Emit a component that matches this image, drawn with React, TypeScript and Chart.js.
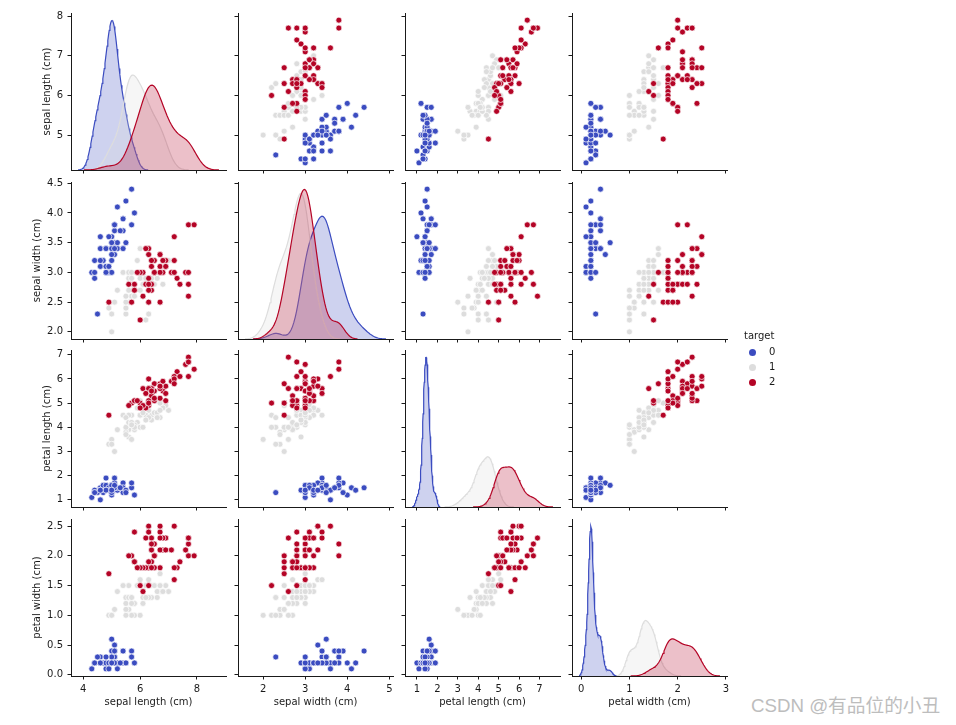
import React, { useEffect, useRef } from 'react';
import { Chart, registerables } from 'chart.js';

Chart.register(...registerables);

// ---------------- DATA (iris, sklearn version) ----------------
const sepalLength = [
  5.1, 4.9, 4.7, 4.6, 5.0, 5.4, 4.6, 5.0, 4.4, 4.9, 5.4, 4.8, 4.8, 4.3, 5.8, 5.7, 5.4, 5.1, 5.7, 5.1, 5.4, 5.1, 4.6, 5.1, 4.8,
  5.0, 5.0, 5.2, 5.2, 4.7, 4.8, 5.4, 5.2, 5.5, 4.9, 5.0, 5.5, 4.9, 4.4, 5.1, 5.0, 4.5, 4.4, 5.0, 5.1, 4.8, 5.1, 4.6, 5.3, 5.0,
  7.0, 6.4, 6.9, 5.5, 6.5, 5.7, 6.3, 4.9, 6.6, 5.2, 5.0, 5.9, 6.0, 6.1, 5.6, 6.7, 5.6, 5.8, 6.2, 5.6, 5.9, 6.1, 6.3, 6.1, 6.4,
  6.6, 6.8, 6.7, 6.0, 5.7, 5.5, 5.5, 5.8, 6.0, 5.4, 6.0, 6.7, 6.3, 5.6, 5.5, 5.5, 6.1, 5.8, 5.0, 5.6, 5.7, 5.7, 6.2, 5.1, 5.7,
  6.3, 5.8, 7.1, 6.3, 6.5, 7.6, 4.9, 7.3, 6.7, 7.2, 6.5, 6.4, 6.8, 5.7, 5.8, 6.4, 6.5, 7.7, 7.7, 6.0, 6.9, 5.6, 7.7, 6.3, 6.7,
  7.2, 6.2, 6.1, 6.4, 7.2, 7.4, 7.9, 6.4, 6.3, 6.1, 7.7, 6.3, 6.4, 6.0, 6.9, 6.7, 6.9, 5.8, 6.8, 6.7, 6.7, 6.3, 6.5, 6.2, 5.9,
];
const sepalWidth = [
  3.5, 3.0, 3.2, 3.1, 3.6, 3.9, 3.4, 3.4, 2.9, 3.1, 3.7, 3.4, 3.0, 3.0, 4.0, 4.4, 3.9, 3.5, 3.8, 3.8, 3.4, 3.7, 3.6, 3.3, 3.4,
  3.0, 3.4, 3.5, 3.4, 3.2, 3.1, 3.4, 4.1, 4.2, 3.1, 3.2, 3.5, 3.6, 3.0, 3.4, 3.5, 2.3, 3.2, 3.5, 3.8, 3.0, 3.8, 3.2, 3.7, 3.3,
  3.2, 3.2, 3.1, 2.3, 2.8, 2.8, 3.3, 2.4, 2.9, 2.7, 2.0, 3.0, 2.2, 2.9, 2.9, 3.1, 3.0, 2.7, 2.2, 2.5, 3.2, 2.8, 2.5, 2.8, 2.9,
  3.0, 2.8, 3.0, 2.9, 2.6, 2.4, 2.4, 2.7, 2.7, 3.0, 3.4, 3.1, 2.3, 3.0, 2.5, 2.6, 3.0, 2.6, 2.3, 2.7, 3.0, 2.9, 2.9, 2.5, 2.8,
  3.3, 2.7, 3.0, 2.9, 3.0, 3.0, 2.5, 2.9, 2.5, 3.6, 3.2, 2.7, 3.0, 2.5, 2.8, 3.2, 3.0, 3.8, 2.6, 2.2, 3.2, 2.8, 2.8, 2.7, 3.3,
  3.2, 2.8, 3.0, 2.8, 3.0, 2.8, 3.8, 2.8, 2.8, 2.6, 3.0, 3.4, 3.1, 3.0, 3.1, 3.1, 3.1, 2.7, 3.2, 3.3, 3.0, 2.5, 3.0, 3.4, 3.0,
];
const petalLength = [
  1.4, 1.4, 1.3, 1.5, 1.4, 1.7, 1.4, 1.5, 1.4, 1.5, 1.5, 1.6, 1.4, 1.1, 1.2, 1.5, 1.3, 1.4, 1.7, 1.5, 1.7, 1.5, 1.0, 1.7, 1.9,
  1.6, 1.6, 1.5, 1.4, 1.6, 1.6, 1.5, 1.5, 1.4, 1.5, 1.2, 1.3, 1.4, 1.3, 1.5, 1.3, 1.3, 1.3, 1.6, 1.9, 1.4, 1.6, 1.4, 1.5, 1.4,
  4.7, 4.5, 4.9, 4.0, 4.6, 4.5, 4.7, 3.3, 4.6, 3.9, 3.5, 4.2, 4.0, 4.7, 3.6, 4.4, 4.5, 4.1, 4.5, 3.9, 4.8, 4.0, 4.9, 4.7, 4.3,
  4.4, 4.8, 5.0, 4.5, 3.5, 3.8, 3.7, 3.9, 5.1, 4.5, 4.5, 4.7, 4.4, 4.1, 4.0, 4.4, 4.6, 4.0, 3.3, 4.2, 4.2, 4.2, 4.3, 3.0, 4.1,
  6.0, 5.1, 5.9, 5.6, 5.8, 6.6, 4.5, 6.3, 5.8, 6.1, 5.1, 5.3, 5.5, 5.0, 5.1, 5.3, 5.5, 6.7, 6.9, 5.0, 5.7, 4.9, 6.7, 4.9, 5.7,
  6.0, 4.8, 4.9, 5.6, 5.8, 6.1, 6.4, 5.6, 5.1, 5.6, 6.1, 5.6, 5.5, 4.8, 5.4, 5.6, 5.1, 5.1, 5.9, 5.7, 5.2, 5.0, 5.2, 5.4, 5.1,
];
const petalWidth = [
  0.2, 0.2, 0.2, 0.2, 0.2, 0.4, 0.3, 0.2, 0.2, 0.1, 0.2, 0.2, 0.1, 0.1, 0.2, 0.4, 0.4, 0.3, 0.3, 0.3, 0.2, 0.4, 0.2, 0.5, 0.2,
  0.2, 0.4, 0.2, 0.2, 0.2, 0.2, 0.4, 0.1, 0.2, 0.2, 0.2, 0.2, 0.1, 0.2, 0.2, 0.3, 0.3, 0.2, 0.6, 0.4, 0.3, 0.2, 0.2, 0.2, 0.2,
  1.4, 1.5, 1.5, 1.3, 1.5, 1.3, 1.6, 1.0, 1.3, 1.4, 1.0, 1.5, 1.0, 1.4, 1.3, 1.4, 1.5, 1.0, 1.5, 1.1, 1.8, 1.3, 1.5, 1.2, 1.3,
  1.4, 1.4, 1.7, 1.5, 1.0, 1.1, 1.0, 1.2, 1.6, 1.5, 1.6, 1.5, 1.3, 1.3, 1.3, 1.2, 1.4, 1.2, 1.0, 1.3, 1.2, 1.3, 1.3, 1.1, 1.3,
  2.5, 1.9, 2.1, 1.8, 2.2, 2.1, 1.7, 1.8, 1.8, 2.5, 2.0, 1.9, 2.1, 2.0, 2.4, 2.3, 1.8, 2.2, 2.3, 1.5, 2.3, 2.0, 2.0, 1.8, 2.1,
  1.8, 1.8, 1.8, 2.1, 1.6, 1.9, 2.0, 2.2, 1.5, 1.4, 2.3, 2.4, 1.8, 1.8, 2.1, 2.4, 2.3, 1.9, 2.3, 2.5, 2.3, 1.9, 2.0, 2.3, 1.8,
];
const target = [
  0, 0, 0, 0, 0, 0, 0, 0, 0, 0, 0, 0, 0, 0, 0, 0, 0, 0, 0, 0, 0, 0, 0, 0, 0,
  0, 0, 0, 0, 0, 0, 0, 0, 0, 0, 0, 0, 0, 0, 0, 0, 0, 0, 0, 0, 0, 0, 0, 0, 0,
  1, 1, 1, 1, 1, 1, 1, 1, 1, 1, 1, 1, 1, 1, 1, 1, 1, 1, 1, 1, 1, 1, 1, 1, 1,
  1, 1, 1, 1, 1, 1, 1, 1, 1, 1, 1, 1, 1, 1, 1, 1, 1, 1, 1, 1, 1, 1, 1, 1, 1,
  2, 2, 2, 2, 2, 2, 2, 2, 2, 2, 2, 2, 2, 2, 2, 2, 2, 2, 2, 2, 2, 2, 2, 2, 2,
  2, 2, 2, 2, 2, 2, 2, 2, 2, 2, 2, 2, 2, 2, 2, 2, 2, 2, 2, 2, 2, 2, 2, 2, 2,
];

const variableNames = ['sepal length (cm)', 'sepal width (cm)', 'petal length (cm)', 'petal width (cm)'];
const classLabels = ['0', '1', '2'];
const classColors = ['#3b4cc0', '#dddddd', '#b40426'];
const classFills = ['rgba(59,76,192,0.25)', 'rgba(221,221,221,0.25)', 'rgba(180,4,38,0.25)'];

const xTicksSepalLength = [4, 6, 8];
const xTicksSepalWidth = [2, 3, 4, 5];
const xTicksPetalLength = [1, 2, 3, 4, 5, 6, 7];
const xTicksPetalWidth = [0, 1, 2, 3];
const yTicksSepalLength = [5, 6, 7, 8];
const yTicksSepalWidth = [2.0, 2.5, 3.0, 3.5, 4.0, 4.5];
const yTicksPetalLength = [1, 2, 3, 4, 5, 6, 7];
const yTicksPetalWidth = [0.0, 0.5, 1.0, 1.5, 2.0, 2.5];
const yTickDecimals = [0, 1, 0, 1];
const legendTitle = 'target';
const watermark = 'CSDN @有品位的小丑';

// ---------------- LAYOUT / STYLE ----------------
const COL_LEFT = [71, 238, 405, 572];
const ROW_TOP = [13, 182, 350, 519];
const PANEL_W = 155;
const PANEL_H = 157;
const Y_AXIS_W = 71;
const X_AXIS_H = 45;
const PAD_TOP = 8;
const PAD_RIGHT = 12;
const CANVAS_W = Y_AXIS_W + PANEL_W + PAD_RIGHT;
const CANVAS_H = PAD_TOP + PANEL_H + X_AXIS_H;
const Y_TITLE_CENTER = [47.7, 37.7, 47.7, 37.7];
const TEXT = '#1a1a1a';
const SPINE = '#1a1a1a';
const FONT = { family: '"DejaVu Sans"', size: 10 };
const LEG_Y = [352.3, 367, 382];

const columns = [sepalLength, sepalWidth, petalLength, petalWidth];
const xTicks = [xTicksSepalLength, xTicksSepalWidth, xTicksPetalLength, xTicksPetalWidth];
const yTicks = [yTicksSepalLength, yTicksSepalWidth, yTicksPetalLength, yTicksPetalWidth];

// ---------------- KDE (scipy gaussian_kde, Scott) ----------------
function kde(values: number[]) {
  const n = values.length;
  const mean = values.reduce((a, b) => a + b, 0) / n;
  const sd = Math.sqrt(values.reduce((a, b) => a + (b - mean) * (b - mean), 0) / (n - 1));
  const bw = sd * Math.pow(n, -1 / 5);
  const lo = Math.min(...values) - 3 * bw;
  const hi = Math.max(...values) + 3 * bw;
  const G = 100;
  const pts: { x: number; y: number }[] = [];
  let maxY = 0;
  for (let i = 0; i < G; i++) {
    const x = lo + ((hi - lo) * i) / (G - 1);
    let s = 0;
    for (const v of values) {
      const z = (x - v) / bw;
      s += Math.exp(-0.5 * z * z);
    }
    const y = s / (n * bw * Math.sqrt(2 * Math.PI));
    if (y > maxY) maxY = y;
    pts.push({ x, y });
  }
  return { pts, lo, hi, maxY };
}

const kdes = columns.map((col) =>
  [0, 1, 2].map((k) => kde(col.filter((_, i) => target[i] === k)))
);
const xRanges = kdes.map((ks) => {
  const lo = Math.min(...ks.map((k) => k.lo));
  const hi = Math.max(...ks.map((k) => k.hi));
  const m = 0.05 * (hi - lo);
  return [lo - m, hi + m];
});
const yRanges = columns.map((col) => {
  const lo = Math.min(...col);
  const hi = Math.max(...col);
  const m = 0.05 * (hi - lo);
  return [lo - m, hi + m];
});
const kdeMax = kdes.map((ks) => Math.max(...ks.map((k) => k.maxY)));

function zeroPad(s: any) {
  s.paddingLeft = 0;
  s.paddingRight = 0;
  s.paddingTop = 0;
  s.paddingBottom = 0;
}

function buildConfig(r: number, c: number): any {
  const isDiag = r === c;
  const gridOpts = {
    display: true,
    drawOnChartArea: false,
    drawTicks: true,
    tickLength: 3.5,
    tickWidth: 1,
    tickColor: SPINE,
  };
  const scales: any = {
    x: {
      type: 'linear',
      position: 'bottom',
      min: xRanges[c][0],
      max: xRanges[c][1],
      afterBuildTicks: (s: any) => {
        s.ticks = xTicks[c].map((v) => ({ value: v }));
      },
      afterFit: (s: any) => {
        s.height = X_AXIS_H;
        zeroPad(s);
      },
      ticks: {
        autoSkip: false,
        maxRotation: 0,
        padding: 3.5,
        color: r === 3 ? TEXT : 'rgba(0,0,0,0)',
        font: FONT,
        callback: (v: any) => String(v),
      },
      grid: gridOpts,
      border: { display: true, color: SPINE, width: 1 },
      title: {
        display: r === 3,
        text: variableNames[c],
        color: TEXT,
        font: FONT,
        padding: { top: 0, bottom: 12.2 },
      },
    },
    y: {
      type: 'linear',
      position: 'left',
      min: yRanges[r][0],
      max: yRanges[r][1],
      afterBuildTicks: (s: any) => {
        s.ticks = yTicks[r].map((v) => ({ value: v }));
      },
      afterFit: (s: any) => {
        s.width = Y_AXIS_W;
        zeroPad(s);
      },
      ticks: {
        autoSkip: false,
        padding: 4.5,
        color: c === 0 ? TEXT : 'rgba(0,0,0,0)',
        font: FONT,
        callback: (v: any) => Number(v).toFixed(yTickDecimals[r]),
      },
      grid: gridOpts,
      border: { display: true, color: SPINE, width: 1 },
      title: {
        display: c === 0,
        text: variableNames[r],
        color: TEXT,
        font: FONT,
        padding: { top: Y_TITLE_CENTER[r] - 6, bottom: 0 },
      },
    },
  };

  let datasets: any[];
  if (isDiag) {
    scales.yk = { type: 'linear', display: false, position: 'left', min: 0, max: kdeMax[c] * 1.05 };
    datasets = [0, 1, 2].map((k) => ({
      type: 'line',
      label: classLabels[k],
      data: kdes[c][k].pts,
      borderColor: classColors[k],
      backgroundColor: classFills[k],
      fill: 'origin',
      borderWidth: 1.2,
      pointRadius: 0,
      tension: 0,
      yAxisID: 'yk',
      xAxisID: 'x',
      order: 2 - k,
    }));
  } else {
    datasets = [0, 1, 2].map((k) => ({
      type: 'scatter',
      label: classLabels[k],
      data: target
        .map((t, i) => (t === k ? { x: columns[c][i], y: columns[r][i] } : null))
        .filter((p) => p !== null),
      backgroundColor: classColors[k],
      borderColor: '#ffffff',
      borderWidth: 0.7,
      pointRadius: 3,
      xAxisID: 'x',
      yAxisID: 'y',
      order: 2 - k,
    }));
  }

  return {
    type: isDiag ? 'line' : 'scatter',
    data: { datasets },
    options: {
      animation: false,
      responsive: false,
      maintainAspectRatio: false,
      devicePixelRatio: 1,
      events: [],
      layout: { padding: { top: PAD_TOP, right: PAD_RIGHT, left: 0, bottom: 0 } },
      plugins: { legend: { display: false }, tooltip: { enabled: false }, title: { display: false } },
      scales,
    },
  };
}

export default function App() {
  const refs = useRef<(HTMLCanvasElement | null)[]>([]);

  useEffect(() => {
    const charts: Chart[] = [];
    for (let r = 0; r < 4; r++) {
      for (let c = 0; c < 4; c++) {
        const cv = refs.current[r * 4 + c];
        if (cv) charts.push(new Chart(cv, buildConfig(r, c)));
      }
    }
    return () => charts.forEach((ch) => ch.destroy());
  }, []);

  const panels: { r: number; c: number }[] = [];
  for (let r = 0; r < 4; r++) for (let c = 0; c < 4; c++) panels.push({ r, c });

  const textStyle: React.CSSProperties = {
    position: 'absolute',
    fontFamily: '"DejaVu Sans", sans-serif',
    fontSize: 10,
    lineHeight: '12px',
    color: TEXT,
    whiteSpace: 'nowrap',
  };

  return (
    <div style={{ position: 'absolute', left: 0, top: 0, width: 956, height: 725, background: '#ffffff', overflow: 'hidden' }}>
      {panels.map(({ r, c }) => (
        <canvas
          key={`${r}-${c}`}
          ref={(el) => {
            refs.current[r * 4 + c] = el;
          }}
          width={CANVAS_W}
          height={CANVAS_H}
          style={{
            position: 'absolute',
            left: COL_LEFT[c] - Y_AXIS_W,
            top: ROW_TOP[r] - PAD_TOP,
            width: CANVAS_W,
            height: CANVAS_H,
          }}
        />
      ))}
      <div style={{ ...textStyle, left: 744, top: 330 }}>{legendTitle}</div>
      {classLabels.map((lab, k) => (
        <React.Fragment key={lab}>
          <div
            style={{
              position: 'absolute',
              left: 748.5,
              top: LEG_Y[k] - 3.5,
              width: 7,
              height: 7,
              borderRadius: '50%',
              background: classColors[k],
            }}
          />
          <div style={{ ...textStyle, left: 769, top: LEG_Y[k] - 6 }}>{lab}</div>
        </React.Fragment>
      ))}
      <div
        style={{
          position: 'absolute',
          left: 751,
          top: 693,
          fontFamily: '"Liberation Sans", "Noto Sans CJK SC", sans-serif',
          fontSize: 18.7,
          lineHeight: '26px',
          color: '#bdbdbd',
          whiteSpace: 'nowrap',
        }}
      >
        {watermark}
      </div>
    </div>
  );
}
